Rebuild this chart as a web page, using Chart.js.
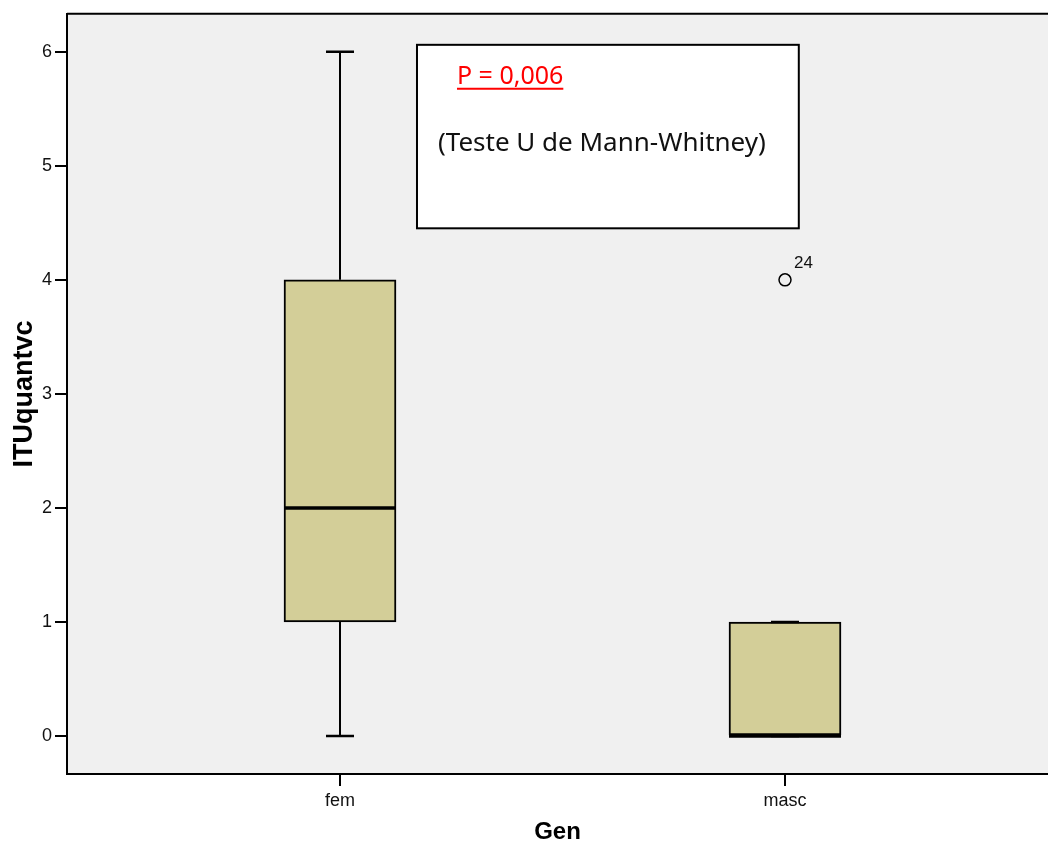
<!DOCTYPE html>
<html>
<head>
<meta charset="utf-8">
<script src="https://cdn.jsdelivr.net/npm/chart.js@4/dist/chart.umd.min.js"></script>
<style>
  html, body { margin: 0; padding: 0; background: #ffffff; }
  #wrap { width: 1048px; height: 843px; }
</style>
</head>
<body>
<div id="wrap"><canvas id="chart" width="1048" height="843"></canvas></div>
<script>
// Box plot of ITUquantvc by gender
const categories = ['fem', 'masc'];
const whiskerLow = [0, 0];
const q1 = [1, 0];
const median = [2, 0];
const q3 = [4, 1];
const whiskerHigh = [6, 1];

const outlierCategory = [1];
const outlierValue = [4];
const outlierLabel = ['24'];

const yTicks = [0, 1, 2, 3, 4, 5, 6];

const pValueText = 'P = 0,006';
const testText = '(Teste U de Mann-Whitney)';

const FONT = "'Liberation Sans', Arial, sans-serif";
const BOX_FILL = '#d3ce98';

// Whisker segments: q1 -> low and q3 -> high, split by a gap
const whiskerPoints = [];
categories.forEach((c, i) => {
  whiskerPoints.push({ x: i, y: whiskerLow[i] }, { x: i, y: q1[i] }, { x: i, y: null });
  whiskerPoints.push({ x: i, y: q3[i] }, { x: i, y: whiskerHigh[i] }, { x: i, y: null });
});

const capPoints = [];
categories.forEach((c, i) => {
  capPoints.push({ x: i, y: whiskerLow[i] }, { x: i, y: whiskerHigh[i] });
});

const plotBackground = {
  id: 'plotBackground',
  beforeDraw(chart) {
    const { ctx, chartArea: a } = chart;
    ctx.save();
    ctx.fillStyle = '#f0f0f0';
    ctx.fillRect(a.left, a.top, a.right - a.left, a.bottom - a.top);
    ctx.strokeStyle = '#000';
    ctx.lineWidth = 2;
    ctx.beginPath();
    ctx.moveTo(a.left, a.top);
    ctx.lineTo(a.right + 2, a.top);
    ctx.stroke();
    ctx.restore();
  }
};

const annotations = {
  id: 'annotations',
  afterDatasetsDraw(chart) {
    const { ctx, scales: { x, y } } = chart;
    ctx.save();
    // outlier case labels
    outlierValue.forEach((v, i) => {
      const px = x.getPixelForValue(outlierCategory[i]);
      const py = y.getPixelForValue(v);
      ctx.fillStyle = '#111';
      ctx.font = '17px ' + FONT;
      ctx.textAlign = 'left';
      ctx.textBaseline = 'alphabetic';
      ctx.fillText(outlierLabel[i], px + 9, py - 12);
    });

    // test result box
    const left = x.getPixelForValue(0.173);
    const right = x.getPixelForValue(1.031);
    const top = y.getPixelForValue(6.061);
    const bottom = y.getPixelForValue(4.452);
    ctx.fillStyle = '#ffffff';
    ctx.fillRect(left, top, right - left, bottom - top);
    ctx.strokeStyle = '#000';
    ctx.lineWidth = 2;
    ctx.strokeRect(left, top, right - left, bottom - top);

    const sans = "'Noto Sans', 'Open Sans', sans-serif";
    ctx.textAlign = 'left';
    ctx.textBaseline = 'alphabetic';
    ctx.fillStyle = '#ff0000';
    ctx.font = '25px ' + sans;
    const pW = ctx.measureText(pValueText).width;
    const pX = left + 40;
    const pY = top + 39;
    ctx.fillText(pValueText, pX, pY);
    ctx.strokeStyle = '#ff0000';
    ctx.lineWidth = 2;
    ctx.beginPath();
    ctx.moveTo(pX, pY + 5);
    ctx.lineTo(pX + pW, pY + 5);
    ctx.stroke();

    ctx.fillStyle = '#111';
    ctx.font = '26px ' + sans;
    ctx.fillText(testText, left + 21, top + 106);
    ctx.restore();
  }
};

const chart = new Chart(document.getElementById('chart'), {
  type: 'bar',
  data: {
    datasets: [
      {
        type: 'bar',
        label: 'box',
        data: categories.map((c, i) => ({ x: i, y: [q1[i], q3[i]] })),
        backgroundColor: BOX_FILL,
        borderColor: '#000',
        borderWidth: 2,
        borderSkipped: false,
        barThickness: 112,
        order: 2
      },
      {
        type: 'line',
        label: 'whiskers',
        data: whiskerPoints,
        borderColor: '#000',
        borderWidth: 2,
        pointRadius: 0,
        spanGaps: false,
        fill: false,
        order: 3
      },
      {
        type: 'scatter',
        label: 'caps',
        data: capPoints,
        pointStyle: 'line',
        pointRadius: 14,
        borderColor: '#000',
        borderWidth: 2.5,
        order: 1
      },
      {
        type: 'scatter',
        label: 'median',
        data: categories.map((c, i) => ({ x: i, y: median[i] })),
        pointStyle: 'line',
        pointRadius: 56,
        borderColor: '#000',
        borderWidth: 3.5,
        order: 0
      },
      {
        type: 'scatter',
        label: 'outliers',
        data: outlierValue.map((v, i) => ({ x: outlierCategory[i], y: v })),
        pointStyle: 'circle',
        pointRadius: 6,
        backgroundColor: 'rgba(0,0,0,0)',
        borderColor: '#000',
        borderWidth: 1.5,
        order: 0
      }
    ]
  },
  options: {
    responsive: false,
    animation: false,
    events: [],
    layout: { autoPadding: false, padding: { top: 12, left: 0, right: 0, bottom: 0 } },
    plugins: {
      legend: { display: false },
      tooltip: { enabled: false }
    },
    scales: {
      x: {
        type: 'linear',
        offset: false,
        min: -0.6135,
        max: 1.591,
        afterBuildTicks(scale) { scale.ticks = categories.map((c, i) => ({ value: i })); },
        afterFit(scale) { scale.height = 69; },
        ticks: {
          callback: (v) => categories[v] ?? '',
          font: { family: FONT, size: 18 },
          color: '#111',
          padding: 4,
          maxRotation: 0
        },
        grid: {
          display: true,
          offset: false,
          drawOnChartArea: false,
          drawTicks: true,
          tickLength: 12,
          color: '#000',
          lineWidth: 2
        },
        border: { display: true, color: '#000', width: 2 },
        title: {
          display: true,
          text: 'Gen',
          font: { family: FONT, size: 24, weight: 'bold', lineHeight: 1 },
          color: '#000',
          padding: { top: 0, bottom: -1 }
        }
      },
      y: {
        type: 'linear',
        min: -0.333,
        max: 6.333,
        afterBuildTicks(scale) { scale.ticks = yTicks.map(v => ({ value: v })); },
        afterFit(scale) { scale.width = 67; },
        ticks: {
          callback: (v) => String(v),
          font: { family: FONT, size: 18 },
          color: '#111',
          padding: 3
        },
        grid: {
          display: true,
          drawOnChartArea: false,
          drawTicks: true,
          tickLength: 12,
          color: '#000',
          lineWidth: 2
        },
        border: { display: true, color: '#000', width: 2 },
        title: {
          display: true,
          text: 'ITUquantvc',
          font: { family: FONT, size: 27, weight: 'bold', lineHeight: 1.2 },
          color: '#000',
          padding: { top: 8, bottom: 0 }
        }
      }
    }
  },
  plugins: [plotBackground, annotations]
});
</script>
</body>
</html>
